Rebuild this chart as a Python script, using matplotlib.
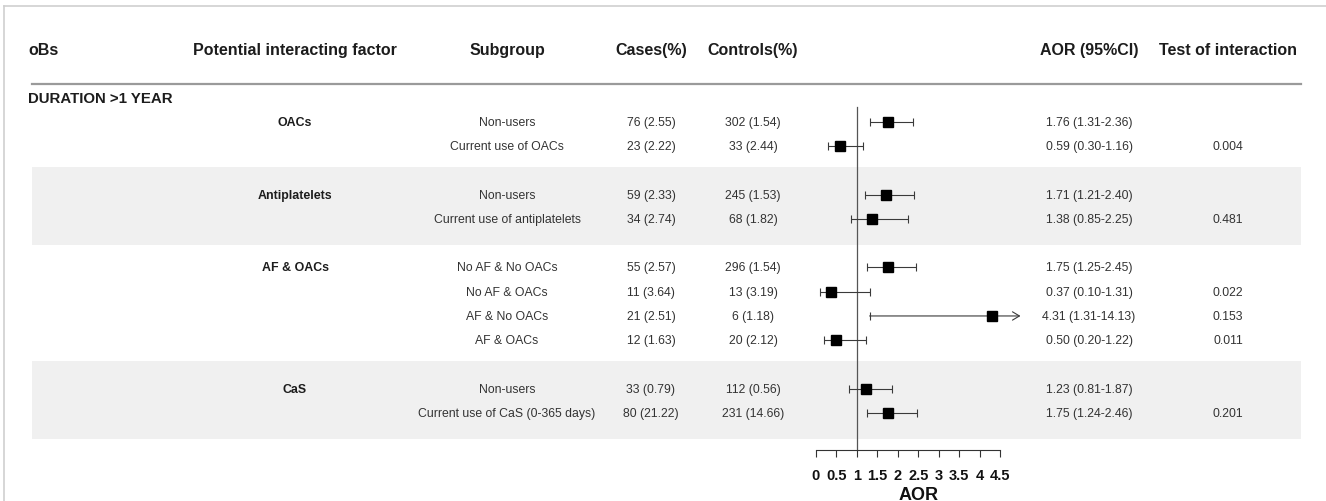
import numpy as np
import matplotlib.pyplot as plt
from matplotlib.lines import Line2D
from matplotlib.patches import Rectangle

plt.rcParams['font.family'] = ['Liberation Sans', 'DejaVu Sans']

section = 'DURATION >1 YEAR'
rows = [1, 2, 4, 5, 7, 8, 9, 10, 12, 13]          # row index in the table
factor = ['OACs', '', 'Antiplatelets', '', 'AF & OACs', '', '', '', 'CaS', '']
subgroup = ['Non-users', 'Current use of OACs',
            'Non-users', 'Current use of antiplatelets',
            'No AF & No OACs', 'No AF & OACs', 'AF & No OACs', 'AF & OACs',
            'Non-users', 'Current use of CaS (0-365 days)']
cases = ['76 (2.55)', '23 (2.22)', '59 (2.33)', '34 (2.74)', '55 (2.57)',
         '11 (3.64)', '21 (2.51)', '12 (1.63)', '33 (0.79)', '80 (21.22)']
controls = ['302 (1.54)', '33 (2.44)', '245 (1.53)', '68 (1.82)', '296 (1.54)',
            '13 (3.19)', '6 (1.18)', '20 (2.12)', '112 (0.56)', '231 (14.66)']
aor = np.array([1.76, 0.59, 1.71, 1.38, 1.75, 0.37, 4.31, 0.50, 1.23, 1.75])
lo = np.array([1.31, 0.30, 1.21, 0.85, 1.25, 0.10, 1.31, 0.20, 0.81, 1.24])
hi = np.array([2.36, 1.16, 2.40, 2.25, 2.45, 1.31, 14.13, 1.22, 1.87, 2.46])
p_int = ['', '0.004', '', '0.481', '', '0.022', '0.153', '0.011', '', '0.201']
shaded = [(4, 5), (12, 13)]                        # first/last row of grey groups
ticks = [0, 0.5, 1, 1.5, 2, 2.5, 3, 3.5, 4, 4.5]

headers = ['Potential interacting factor', 'Subgroup', 'Cases(%)', 'Controls(%)',
           'AOR (95%CI)', 'Test of interaction']

# ---- layout ----
W, H = 1326, 502
ylim = (16.63, -4.07)
x_left = 28
col_x = [295, 507, 651, 753, 1089, 1228]
band_x0, band_x1 = 32, 1301
xmax = 5.0

body_c = '#333333'
head_c = '#1c1c1c'

fig = plt.figure(figsize=(W / 100, H / 100), dpi=100)
ax = fig.add_axes([0, 0, 1, 1])
ax.set_xlim(0, W)
ax.set_ylim(*ylim)
ax.axis('off')

# grey bands
for a, b in shaded:
    ax.add_patch(Rectangle((band_x0, a - 1.15), band_x1 - band_x0, b - a + 2.23,
                           facecolor='#f0f0f0', edgecolor='none', zorder=0))

# header
ax.text(x_left, -2.0, 'oBs', ha='left', va='center', fontsize=11.5,
        fontweight='bold', color=head_c)
for x, h in zip(col_x, headers):
    ax.text(x, -2.0, h, ha='center', va='center', fontsize=11.5,
            fontweight='bold', color=head_c)
ax.plot([band_x0, band_x1], [-0.57, -0.57], color='#9a9a9a', lw=1.6)

ax.text(x_left, 0, section, ha='left', va='center', fontsize=10.8,
        fontweight='bold', color=head_c)

aor_txt = [f'{a:.2f} ({l:.2f}-{h:.2f})' for a, l, h in zip(aor, lo, hi)]
for i, r in enumerate(rows):
    if factor[i]:
        ax.text(col_x[0], r, factor[i], ha='center', va='center', fontsize=8.9,
                fontweight='bold', color=head_c)
    for x, s in zip(col_x[1:], [subgroup[i], cases[i], controls[i], aor_txt[i], p_int[i]]):
        ax.text(x, r, s, ha='center', va='center', fontsize=8.8, color=body_c)

# ---- forest panel ----
fa = fig.add_axes([816 / W, 0, (1020.5 - 816) / W, 1])
fa.set_xlim(0, xmax)
fa.set_ylim(*ylim)
fa.patch.set_alpha(0)
for s in ['top', 'left', 'right']:
    fa.spines[s].set_visible(False)
fa.spines['bottom'].set_position(('data', 14.53))
fa.spines['bottom'].set_bounds(0, 4.5)
fa.spines['bottom'].set_color('#333333')
fa.spines['bottom'].set_linewidth(0.8)
fa.set_yticks([])
fa.set_xticks(ticks)
fa.set_xticklabels([f'{t:g}' for t in ticks], fontweight='bold')
fa.tick_params(axis='x', direction='out', length=5, width=0.8, pad=8,
               labelsize=10.5, color='#333333', labelcolor='#111111')
fa.set_xlabel('AOR', fontsize=13, fontweight='bold', labelpad=2.5, color='#111111')

fa.plot([1, 1], [0.38, 14.53], color='#555555', lw=0.9, zorder=1)

rows_a = np.array(rows)
ok = hi <= xmax
fa.errorbar(aor[ok], rows_a[ok], xerr=[aor[ok] - lo[ok], hi[ok] - aor[ok]],
            fmt='none', ecolor='#3a3a3a', elinewidth=0.8, capsize=3.2,
            capthick=0.8, zorder=2)
for a, l, r in zip(aor[~ok], lo[~ok], rows_a[~ok]):
    fa.annotate('', xy=(xmax, r), xytext=(l, r), annotation_clip=False,
                arrowprops=dict(arrowstyle='->,head_length=0.5,head_width=0.3',
                                color='#3a3a3a', lw=0.8, shrinkA=0, shrinkB=0))
    fa.plot([l], [r], marker='|', ms=6.4, mew=0.8, color='#3a3a3a')
fa.plot(aor, rows_a, 's', ms=6.5, color='black', ls='none', zorder=3)

# light frame around the picture
fig.add_artist(Line2D([4 / W, 1], [1 - 7 / H, 1 - 7 / H], transform=fig.transFigure,
                      color='#cfcfcf', lw=1.2))
fig.add_artist(Line2D([4 / W, 4 / W], [0, 1 - 7 / H], transform=fig.transFigure,
                      color='#cfcfcf', lw=1.2))

fig.savefig('out.png', dpi=100)
